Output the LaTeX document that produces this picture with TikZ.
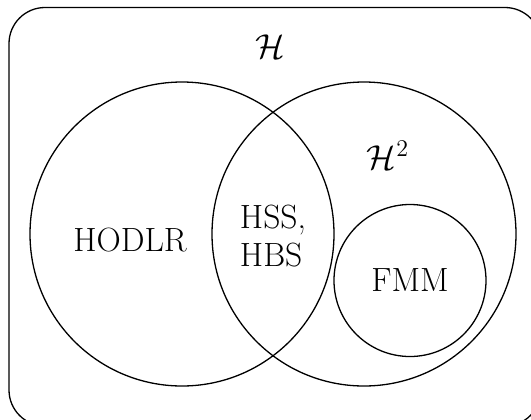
\documentclass[tikz,border=0pt]{standalone}
\begin{document}
\begin{tikzpicture}[x=0.5pt,y=-0.5pt,
  ring/.style={draw,circle,line width=0.65pt,inner sep=0pt},
  lbl/.style={font=\fontsize{16.8}{19}\selectfont,inner sep=0pt,align=left}]
\clip (0,0) rectangle (531,419);
\draw[line width=0.65pt,rounded corners=18pt] (9,7.5) rectangle (541,426);
\node[ring,minimum size=152pt] (hodlr) at (182,234) {};
\node[ring,minimum size=152pt] (h2) at (364,234) {};
\node[ring,minimum size=76pt] (fmm) at (410,280.5) {};
\node[lbl] (tH) at (270,47) {$\mathcal{H}$};
\node[lbl] (tH2) at (388,155) {$\mathcal{H}^2$};
\node[lbl] (tHODLR) at (130,240) {HODLR};
\node[lbl] (tHSS) at (273,236) {HSS,\\HBS};
\node[lbl] (tFMM) at (410,280) {FMM};
\end{tikzpicture}
\end{document}
